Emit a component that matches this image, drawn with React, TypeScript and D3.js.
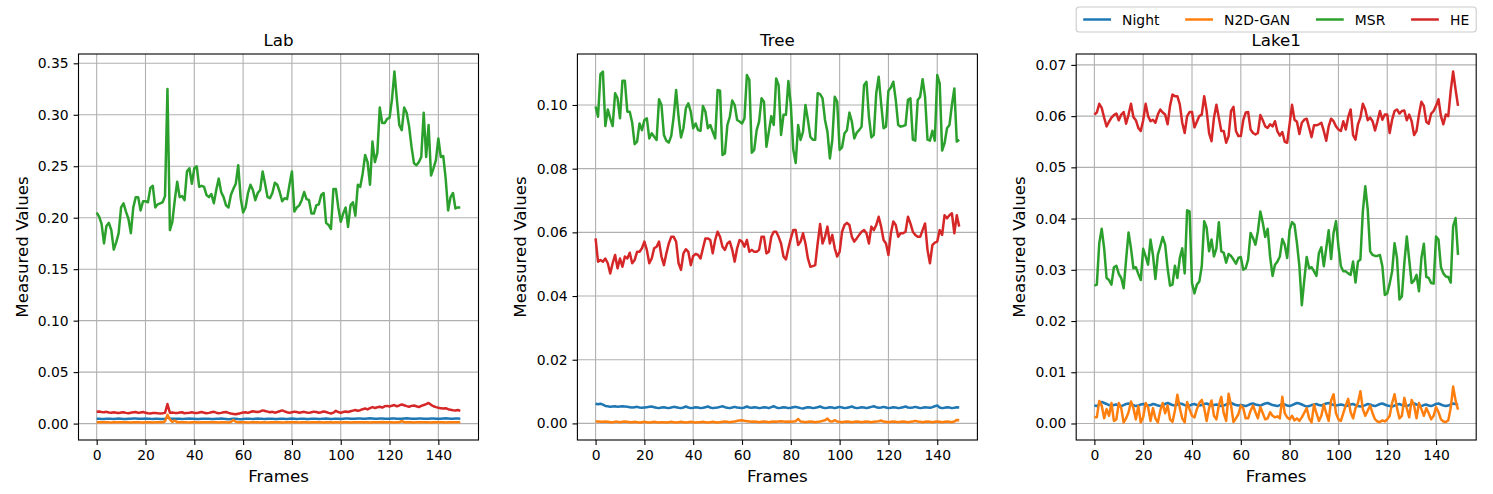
import React from 'react';
import * as d3 from 'd3';

// ---- data ----
const seriesNames = ['Night', 'N2D-GAN', 'MSR', 'HE'];
const seriesColors = ['#1f77b4', '#ff7f0e', '#2ca02c', '#d62728'];
const panelTitles = ['Lab', 'Tree', 'Lake1'];
const xTicks = [0, 20, 40, 60, 80, 100, 120, 140];
const labTicks = [0, 0.05, 0.1, 0.15, 0.2, 0.25, 0.3, 0.35];
const treeTicks = [0, 0.02, 0.04, 0.06, 0.08, 0.1];
const lakeTicks = [0, 0.01, 0.02, 0.03, 0.04, 0.05, 0.06, 0.07];

const labNight = [
  0.0046, 0.0047, 0.0045, 0.0044, 0.0046, 0.0048, 0.0046, 0.0045, 0.0047, 0.0049,
  0.0047, 0.0045, 0.0044, 0.0046, 0.0048, 0.0050, 0.0049, 0.0047, 0.0046, 0.0048,
  0.0050, 0.0048, 0.0046, 0.0045, 0.0047, 0.0046, 0.0044, 0.0045, 0.0047, 0.0060,
  0.0050, 0.0047, 0.0046, 0.0048, 0.0047, 0.0045, 0.0046, 0.0048, 0.0049, 0.0047,
  0.0046, 0.0044, 0.0045, 0.0047, 0.0046, 0.0048, 0.0047, 0.0045, 0.0044, 0.0046,
  0.0048, 0.0049, 0.0047, 0.0045, 0.0043, 0.0045, 0.0047, 0.0046, 0.0044, 0.0043,
  0.0045, 0.0047, 0.0048, 0.0046, 0.0045, 0.0047, 0.0049, 0.0048, 0.0046, 0.0045,
  0.0047, 0.0048, 0.0046, 0.0044, 0.0045, 0.0047, 0.0048, 0.0046, 0.0045, 0.0047,
  0.0049, 0.0047, 0.0045, 0.0046, 0.0048, 0.0047, 0.0045, 0.0044, 0.0046, 0.0048,
  0.0047, 0.0045, 0.0046, 0.0048, 0.0049, 0.0047, 0.0045, 0.0046, 0.0048, 0.0047,
  0.0045, 0.0047, 0.0049, 0.0050, 0.0048, 0.0046, 0.0047, 0.0049, 0.0050, 0.0048,
  0.0047, 0.0049, 0.0051, 0.0049, 0.0047, 0.0048, 0.0050, 0.0049, 0.0047, 0.0046,
  0.0048, 0.0050, 0.0049, 0.0047, 0.0046, 0.0048, 0.0050, 0.0051, 0.0049, 0.0047,
  0.0046, 0.0048, 0.0050, 0.0049, 0.0047, 0.0046, 0.0048, 0.0050, 0.0049, 0.0047,
  0.0046, 0.0048, 0.0050, 0.0051, 0.0049, 0.0047, 0.0048, 0.0050, 0.0049, 0.0048,
];
const labN2d = [
  0.0014, 0.0013, 0.0012, 0.0013, 0.0014, 0.0012, 0.0011, 0.0012, 0.0013, 0.0014,
  0.0013, 0.0012, 0.0013, 0.0012, 0.0011, 0.0012, 0.0013, 0.0014, 0.0012, 0.0011,
  0.0012, 0.0013, 0.0012, 0.0011, 0.0012, 0.0013, 0.0014, 0.0013, 0.0022, 0.0085,
  0.0040, 0.0015, 0.0030, 0.0014, 0.0012, 0.0013, 0.0014, 0.0012, 0.0011, 0.0012,
  0.0013, 0.0012, 0.0011, 0.0012, 0.0013, 0.0014, 0.0013, 0.0012, 0.0013, 0.0012,
  0.0011, 0.0012, 0.0013, 0.0012, 0.0011, 0.0016, 0.0034, 0.0018, 0.0013, 0.0012,
  0.0013, 0.0012, 0.0011, 0.0012, 0.0014, 0.0013, 0.0012, 0.0011, 0.0013, 0.0012,
  0.0011, 0.0012, 0.0013, 0.0014, 0.0013, 0.0012, 0.0011, 0.0012, 0.0014, 0.0013,
  0.0012, 0.0013, 0.0012, 0.0011, 0.0012, 0.0013, 0.0012, 0.0011, 0.0012, 0.0013,
  0.0014, 0.0013, 0.0012, 0.0011, 0.0012, 0.0013, 0.0012, 0.0011, 0.0013, 0.0012,
  0.0011, 0.0012, 0.0013, 0.0012, 0.0011, 0.0012, 0.0013, 0.0014, 0.0013, 0.0012,
  0.0013, 0.0012, 0.0011, 0.0012, 0.0013, 0.0012, 0.0014, 0.0016, 0.0013, 0.0012,
  0.0012, 0.0013, 0.0011, 0.0012, 0.0013, 0.0024, 0.0014, 0.0012, 0.0013, 0.0012,
  0.0011, 0.0012, 0.0013, 0.0012, 0.0014, 0.0013, 0.0012, 0.0011, 0.0012, 0.0013,
  0.0012, 0.0013, 0.0012, 0.0011, 0.0012, 0.0013, 0.0012, 0.0013, 0.0012, 0.0013,
];
const labMsr = [
  0.205, 0.201, 0.194, 0.175, 0.192, 0.195, 0.188, 0.169, 0.176, 0.185,
  0.210, 0.214, 0.206, 0.199, 0.185, 0.210, 0.220, 0.220, 0.207, 0.216,
  0.216, 0.215, 0.229, 0.231, 0.210, 0.213, 0.214, 0.215, 0.221, 0.325,
  0.188, 0.196, 0.217, 0.235, 0.220, 0.221, 0.217, 0.245, 0.248, 0.233,
  0.248, 0.250, 0.230, 0.231, 0.230, 0.222, 0.220, 0.223, 0.214, 0.227,
  0.238, 0.225, 0.220, 0.212, 0.210, 0.222, 0.228, 0.233, 0.251, 0.219,
  0.205, 0.210, 0.224, 0.232, 0.227, 0.217, 0.224, 0.227, 0.245, 0.233,
  0.220, 0.219, 0.224, 0.234, 0.232, 0.225, 0.216, 0.219, 0.218, 0.232,
  0.245, 0.206, 0.210, 0.212, 0.217, 0.225, 0.218, 0.217, 0.204, 0.204,
  0.212, 0.213, 0.222, 0.224, 0.195, 0.193, 0.189, 0.228, 0.228, 0.210,
  0.196, 0.204, 0.210, 0.191, 0.212, 0.215, 0.202, 0.232, 0.230, 0.243,
  0.261, 0.254, 0.232, 0.274, 0.254, 0.263, 0.307, 0.292, 0.292, 0.296,
  0.297, 0.315, 0.342, 0.315, 0.290, 0.285, 0.307, 0.302, 0.289, 0.269,
  0.253, 0.251, 0.254, 0.259, 0.302, 0.259, 0.290, 0.241, 0.248, 0.256,
  0.277, 0.259, 0.260, 0.238, 0.207, 0.220, 0.224, 0.209, 0.210, 0.210,
];
const labHe = [
  0.0115, 0.0118, 0.0112, 0.0110, 0.0114, 0.0108, 0.0105, 0.0110, 0.0106, 0.0102,
  0.0108, 0.0110, 0.0104, 0.0100, 0.0106, 0.0110, 0.0112, 0.0104, 0.0108, 0.0112,
  0.0106, 0.0100, 0.0098, 0.0102, 0.0104, 0.0100, 0.0097, 0.0100, 0.0104, 0.0190,
  0.0105, 0.0108, 0.0104, 0.0102, 0.0108, 0.0110, 0.0100, 0.0104, 0.0106, 0.0110,
  0.0104, 0.0102, 0.0108, 0.0112, 0.0106, 0.0100, 0.0104, 0.0110, 0.0114, 0.0106,
  0.0100, 0.0104, 0.0110, 0.0112, 0.0104, 0.0098, 0.0094, 0.0090, 0.0096, 0.0102,
  0.0108, 0.0110, 0.0104, 0.0112, 0.0120, 0.0116, 0.0112, 0.0118, 0.0128, 0.0122,
  0.0116, 0.0110, 0.0114, 0.0106, 0.0112, 0.0120, 0.0128, 0.0118, 0.0110, 0.0104,
  0.0110, 0.0116, 0.0112, 0.0106, 0.0110, 0.0114, 0.0108, 0.0104, 0.0110, 0.0116,
  0.0112, 0.0106, 0.0110, 0.0118, 0.0112, 0.0104, 0.0098, 0.0106, 0.0124, 0.0112,
  0.0104, 0.0112, 0.0118, 0.0112, 0.0120, 0.0126, 0.0132, 0.0124, 0.0130, 0.0140,
  0.0146, 0.0138, 0.0150, 0.0160, 0.0152, 0.0158, 0.0164, 0.0156, 0.0168, 0.0172,
  0.0166, 0.0174, 0.0180, 0.0168, 0.0176, 0.0186, 0.0178, 0.0170, 0.0164, 0.0172,
  0.0176, 0.0168, 0.0160, 0.0172, 0.0180, 0.0190, 0.0200, 0.0182, 0.0168, 0.0160,
  0.0154, 0.0150, 0.0146, 0.0150, 0.0140, 0.0134, 0.0130, 0.0128, 0.0132, 0.0124,
];

const treeNight = [
  0.0062, 0.0060, 0.0062, 0.0059, 0.0055, 0.0054, 0.0052, 0.0053, 0.0054, 0.0052,
  0.0053, 0.0054, 0.0053, 0.0052, 0.0051, 0.0050, 0.0051, 0.0052, 0.0050, 0.0049,
  0.0050, 0.0051, 0.0052, 0.0053, 0.0051, 0.0049, 0.0048, 0.0050, 0.0051, 0.0049,
  0.0048, 0.0050, 0.0052, 0.0051, 0.0049, 0.0048, 0.0050, 0.0053, 0.0050, 0.0048,
  0.0049, 0.0051, 0.0050, 0.0048, 0.0049, 0.0051, 0.0053, 0.0050, 0.0048, 0.0049,
  0.0050, 0.0052, 0.0054, 0.0051, 0.0049, 0.0048, 0.0050, 0.0052, 0.0050, 0.0049,
  0.0048, 0.0050, 0.0053, 0.0050, 0.0049, 0.0051, 0.0050, 0.0048, 0.0049, 0.0051,
  0.0050, 0.0048, 0.0051, 0.0054, 0.0050, 0.0048, 0.0049, 0.0051, 0.0050, 0.0048,
  0.0049, 0.0051, 0.0052, 0.0050, 0.0048, 0.0047, 0.0049, 0.0051, 0.0050, 0.0048,
  0.0049, 0.0051, 0.0053, 0.0050, 0.0048, 0.0049, 0.0051, 0.0050, 0.0048, 0.0050,
  0.0052, 0.0050, 0.0048, 0.0049, 0.0051, 0.0053, 0.0050, 0.0048, 0.0049, 0.0051,
  0.0050, 0.0048, 0.0050, 0.0052, 0.0054, 0.0051, 0.0049, 0.0050, 0.0052, 0.0050,
  0.0048, 0.0049, 0.0051, 0.0050, 0.0048, 0.0049, 0.0051, 0.0053, 0.0050, 0.0049,
  0.0050, 0.0052, 0.0050, 0.0048, 0.0049, 0.0051, 0.0050, 0.0049, 0.0051, 0.0054,
  0.0056, 0.0050, 0.0048, 0.0049, 0.0051, 0.0050, 0.0048, 0.0049, 0.0051, 0.0050,
];
const treeN2d = [
  0.0006, 0.0006, 0.0005, 0.0005, 0.0006, 0.0005, 0.0004, 0.0004, 0.0005, 0.0005,
  0.0004, 0.0005, 0.0006, 0.0005, 0.0004, 0.0004, 0.0005, 0.0004, 0.0003, 0.0004,
  0.0005, 0.0004, 0.0003, 0.0004, 0.0005, 0.0004, 0.0003, 0.0004, 0.0004, 0.0003,
  0.0004, 0.0005, 0.0004, 0.0003, 0.0004, 0.0005, 0.0004, 0.0003, 0.0004, 0.0005,
  0.0004, 0.0003, 0.0004, 0.0004, 0.0005, 0.0004, 0.0003, 0.0004, 0.0005, 0.0004,
  0.0003, 0.0004, 0.0005, 0.0006, 0.0005, 0.0004, 0.0005, 0.0006, 0.0008, 0.0009,
  0.0010, 0.0008, 0.0007, 0.0006, 0.0005, 0.0006, 0.0005, 0.0004, 0.0005, 0.0006,
  0.0005, 0.0004, 0.0005, 0.0006, 0.0005, 0.0006, 0.0007, 0.0006, 0.0005, 0.0006,
  0.0005, 0.0006, 0.0007, 0.0014, 0.0006, 0.0005, 0.0004, 0.0005, 0.0006, 0.0005,
  0.0004, 0.0005, 0.0006, 0.0008, 0.0010, 0.0015, 0.0007, 0.0006, 0.0010, 0.0006,
  0.0005, 0.0004, 0.0005, 0.0006, 0.0005, 0.0004, 0.0005, 0.0006, 0.0005, 0.0004,
  0.0005, 0.0006, 0.0005, 0.0004, 0.0005, 0.0006, 0.0007, 0.0009, 0.0006, 0.0005,
  0.0004, 0.0005, 0.0006, 0.0005, 0.0004, 0.0005, 0.0006, 0.0005, 0.0004, 0.0005,
  0.0006, 0.0008, 0.0006, 0.0005, 0.0004, 0.0005, 0.0006, 0.0005, 0.0004, 0.0005,
  0.0006, 0.0005, 0.0004, 0.0005, 0.0006, 0.0005, 0.0004, 0.0006, 0.0011, 0.0010,
];
const treeMsr = [
  0.0995, 0.0963, 0.1097, 0.1105, 0.0934, 0.0986, 0.0958, 0.0934, 0.1037, 0.1021,
  0.0958, 0.1076, 0.1076, 0.0979, 0.0979, 0.0944, 0.0877, 0.0885, 0.0942, 0.0921,
  0.0953, 0.0958, 0.0895, 0.0911, 0.0900, 0.0890, 0.1018, 0.1000, 0.0906, 0.0888,
  0.0882, 0.0903, 0.0963, 0.1047, 0.0963, 0.0898, 0.0927, 0.0990, 0.1005, 0.0979,
  0.0927, 0.0942, 0.0921, 0.0919, 0.0997, 0.0979, 0.0927, 0.0937, 0.0916, 0.0895,
  0.1047, 0.1045, 0.0843, 0.0848, 0.0937, 0.0963, 0.1014, 0.1000, 0.0953, 0.0948,
  0.0942, 0.0958, 0.1094, 0.1079, 0.0850, 0.0859, 0.0921, 0.0948, 0.1021, 0.1010,
  0.0869, 0.0916, 0.0965, 0.0937, 0.1083, 0.1062, 0.0906, 0.0969, 0.0969, 0.1075,
  0.1000, 0.0860, 0.0818, 0.0937, 0.0890, 0.0916, 0.1000, 0.0953, 0.0900, 0.0891,
  0.0891, 0.1037, 0.1034, 0.1021, 0.0953, 0.0916, 0.0832, 0.0890, 0.1026, 0.1010,
  0.0859, 0.0867, 0.0911, 0.0921, 0.0976, 0.0948, 0.0895, 0.0913, 0.0921, 0.0932,
  0.1062, 0.1073, 0.0963, 0.0898, 0.0906, 0.1037, 0.1089, 0.1005, 0.0927, 0.0932,
  0.1045, 0.1055, 0.1073, 0.1016, 0.0937, 0.0932, 0.0934, 0.0937, 0.1016, 0.1021,
  0.0891, 0.0888, 0.1016, 0.1026, 0.1081, 0.1026, 0.0891, 0.0888, 0.0919, 0.0888,
  0.1094, 0.1068, 0.0857, 0.0880, 0.0927, 0.0937, 0.1000, 0.1052, 0.0885, 0.0891,
];
const treeHe = [
  0.0581, 0.0508, 0.0513, 0.0508, 0.0518, 0.0503, 0.0471, 0.0503, 0.0529, 0.0487,
  0.0518, 0.0492, 0.0524, 0.0518, 0.0536, 0.0503, 0.0513, 0.0539, 0.0539, 0.0550,
  0.0571, 0.0545, 0.0503, 0.0518, 0.0550, 0.0555, 0.0571, 0.0524, 0.0497, 0.0534,
  0.0565, 0.0586, 0.0586, 0.0571, 0.0503, 0.0482, 0.0534, 0.0547, 0.0539, 0.0497,
  0.0526, 0.0532, 0.0529, 0.0518, 0.0550, 0.0581, 0.0581, 0.0576, 0.0534, 0.0576,
  0.0602, 0.0586, 0.0555, 0.0545, 0.0565, 0.0571, 0.0545, 0.0508, 0.0550, 0.0576,
  0.0571, 0.0555, 0.0576, 0.0539, 0.0545, 0.0539, 0.0539, 0.0545, 0.0586, 0.0586,
  0.0534, 0.0539, 0.0586, 0.0602, 0.0602, 0.0586, 0.0565, 0.0524, 0.0515, 0.0550,
  0.0581, 0.0607, 0.0607, 0.0560, 0.0571, 0.0597, 0.0565, 0.0518, 0.0492, 0.0494,
  0.0497, 0.0565, 0.0626, 0.0565, 0.0586, 0.0618, 0.0565, 0.0592, 0.0550, 0.0524,
  0.0539, 0.0602, 0.0623, 0.0630, 0.0623, 0.0586, 0.0571, 0.0581, 0.0592, 0.0602,
  0.0607, 0.0597, 0.0565, 0.0618, 0.0607, 0.0623, 0.0649, 0.0618, 0.0576, 0.0565,
  0.0529, 0.0597, 0.0634, 0.0623, 0.0586, 0.0597, 0.0597, 0.0602, 0.0649, 0.0628,
  0.0602, 0.0592, 0.0586, 0.0586, 0.0607, 0.0628, 0.0545, 0.0503, 0.0560, 0.0568,
  0.0571, 0.0607, 0.0592, 0.0654, 0.0644, 0.0654, 0.0660, 0.0597, 0.0654, 0.0618,
];

const lakeNight = [
  0.0035, 0.0034, 0.0037, 0.0042, 0.0040, 0.0038, 0.0036, 0.0035, 0.0036, 0.0037,
  0.0035, 0.0034, 0.0036, 0.0038, 0.0039, 0.0037, 0.0036, 0.0034, 0.0035, 0.0037,
  0.0038, 0.0036, 0.0035, 0.0036, 0.0038, 0.0037, 0.0035, 0.0034, 0.0036, 0.0038,
  0.0040, 0.0038, 0.0036, 0.0035, 0.0037, 0.0039, 0.0038, 0.0036, 0.0034, 0.0035,
  0.0037, 0.0038, 0.0036, 0.0035, 0.0036, 0.0038, 0.0039, 0.0037, 0.0035, 0.0036,
  0.0037, 0.0036, 0.0034, 0.0035, 0.0037, 0.0039, 0.0040, 0.0038, 0.0036, 0.0035,
  0.0036, 0.0035, 0.0034, 0.0036, 0.0038, 0.0039, 0.0037, 0.0036, 0.0035, 0.0037,
  0.0039, 0.0040, 0.0038, 0.0036, 0.0035, 0.0034, 0.0036, 0.0038, 0.0037, 0.0035,
  0.0034, 0.0036, 0.0038, 0.0040, 0.0039, 0.0037, 0.0035, 0.0033, 0.0034, 0.0036,
  0.0037, 0.0038, 0.0036, 0.0035, 0.0037, 0.0039, 0.0040, 0.0038, 0.0036, 0.0035,
  0.0036, 0.0037, 0.0036, 0.0034, 0.0035, 0.0037, 0.0038, 0.0036, 0.0034, 0.0033,
  0.0034, 0.0036, 0.0038, 0.0037, 0.0035, 0.0034, 0.0036, 0.0038, 0.0039, 0.0037,
  0.0035, 0.0034, 0.0033, 0.0035, 0.0037, 0.0038, 0.0036, 0.0035, 0.0034, 0.0036,
  0.0038, 0.0039, 0.0037, 0.0035, 0.0034, 0.0036, 0.0037, 0.0035, 0.0034, 0.0036,
  0.0038, 0.0039, 0.0037, 0.0035, 0.0034, 0.0035, 0.0037, 0.0039, 0.0038, 0.0036,
];
const lakeN2d = [
  0.0012, 0.0012, 0.0044, 0.0035, 0.0010, 0.0028, 0.0015, 0.0040, 0.0005, 0.0008,
  0.0040, 0.0030, 0.0002, 0.0010, 0.0022, 0.0043, 0.0030, 0.0008, 0.0034, 0.0002,
  0.0012, 0.0040, 0.0032, 0.0005, 0.0030, 0.0010, 0.0002, 0.0025, 0.0040, 0.0020,
  0.0035, 0.0008, 0.0003, 0.0025, 0.0056, 0.0030, 0.0010, 0.0002, 0.0042, 0.0028,
  0.0015, 0.0012, 0.0028, 0.0040, 0.0046, 0.0030, 0.0005, 0.0030, 0.0045, 0.0015,
  0.0008, 0.0035, 0.0052, 0.0020, 0.0005, 0.0058, 0.0035, 0.0003, 0.0010, 0.0018,
  0.0035, 0.0030, 0.0010, 0.0010, 0.0025, 0.0035, 0.0022, 0.0010, 0.0032, 0.0020,
  0.0008, 0.0010, 0.0022, 0.0015, 0.0012, 0.0014, 0.0010, 0.0052, 0.0020, 0.0012,
  0.0008, 0.0015, 0.0006, 0.0010, 0.0005, 0.0012, 0.0021, 0.0030, 0.0010, 0.0002,
  0.0037, 0.0020, 0.0005, 0.0015, 0.0037, 0.0020, 0.0005, 0.0045, 0.0057, 0.0020,
  0.0008, 0.0005, 0.0020, 0.0035, 0.0048, 0.0022, 0.0010, 0.0030, 0.0040, 0.0063,
  0.0028, 0.0015, 0.0025, 0.0035, 0.0020, 0.0008, 0.0004, 0.0003, 0.0006, 0.0004,
  0.0008, 0.0015, 0.0040, 0.0057, 0.0030, 0.0010, 0.0015, 0.0050, 0.0030, 0.0012,
  0.0046, 0.0035, 0.0010, 0.0040, 0.0028, 0.0015, 0.0030, 0.0020, 0.0008, 0.0015,
  0.0032, 0.0022, 0.0008, 0.0004, 0.0003, 0.0006, 0.0030, 0.0072, 0.0045, 0.0027,
];
const lakeMsr = [
  0.0269, 0.0271, 0.0352, 0.0380, 0.0342, 0.0284, 0.0280, 0.0271, 0.0305, 0.0308,
  0.0292, 0.0284, 0.0264, 0.0320, 0.0373, 0.0342, 0.0303, 0.0305, 0.0292, 0.0280,
  0.0341, 0.0326, 0.0310, 0.0359, 0.0329, 0.0282, 0.0329, 0.0346, 0.0364, 0.0349,
  0.0303, 0.0269, 0.0271, 0.0308, 0.0284, 0.0323, 0.0342, 0.0293, 0.0416, 0.0414,
  0.0274, 0.0254, 0.0271, 0.0277, 0.0307, 0.0395, 0.0382, 0.0336, 0.0359, 0.0326,
  0.0342, 0.0393, 0.0336, 0.0333, 0.0314, 0.0331, 0.0327, 0.0320, 0.0312, 0.0323,
  0.0325, 0.0300, 0.0303, 0.0320, 0.0372, 0.0362, 0.0349, 0.0375, 0.0414, 0.0392,
  0.0364, 0.0380, 0.0326, 0.0288, 0.0310, 0.0316, 0.0326, 0.0360, 0.0349, 0.0323,
  0.0378, 0.0393, 0.0388, 0.0352, 0.0307, 0.0231, 0.0280, 0.0325, 0.0303, 0.0305,
  0.0297, 0.0288, 0.0333, 0.0344, 0.0307, 0.0342, 0.0377, 0.0321, 0.0372, 0.0395,
  0.0346, 0.0307, 0.0297, 0.0297, 0.0293, 0.0290, 0.0316, 0.0275, 0.0316, 0.0320,
  0.0414, 0.0463, 0.0418, 0.0336, 0.0329, 0.0327, 0.0327, 0.0329, 0.0307, 0.0251,
  0.0254, 0.0273, 0.0297, 0.0352, 0.0323, 0.0242, 0.0248, 0.0313, 0.0365, 0.0320,
  0.0274, 0.0279, 0.0290, 0.0258, 0.0323, 0.0351, 0.0286, 0.0284, 0.0274, 0.0273,
  0.0365, 0.0359, 0.0305, 0.0293, 0.0287, 0.0286, 0.0275, 0.0385, 0.0401, 0.0329,
];
const lakeHe = [
  0.0603, 0.0607, 0.0624, 0.0616, 0.0597, 0.0580, 0.0589, 0.0597, 0.0602, 0.0605,
  0.0592, 0.0603, 0.0608, 0.0585, 0.0603, 0.0624, 0.0598, 0.0592, 0.0577, 0.0571,
  0.0592, 0.0624, 0.0600, 0.0590, 0.0593, 0.0587, 0.0603, 0.0613, 0.0607, 0.0603,
  0.0584, 0.0620, 0.0642, 0.0639, 0.0639, 0.0623, 0.0587, 0.0567, 0.0600, 0.0608,
  0.0608, 0.0578, 0.0589, 0.0600, 0.0603, 0.0639, 0.0610, 0.0567, 0.0551, 0.0597,
  0.0622, 0.0597, 0.0571, 0.0571, 0.0548, 0.0561, 0.0610, 0.0618, 0.0571, 0.0561,
  0.0561, 0.0592, 0.0607, 0.0608, 0.0574, 0.0567, 0.0564, 0.0567, 0.0602, 0.0592,
  0.0580, 0.0577, 0.0584, 0.0580, 0.0590, 0.0570, 0.0562, 0.0569, 0.0550, 0.0548,
  0.0585, 0.0622, 0.0593, 0.0589, 0.0565, 0.0587, 0.0593, 0.0595, 0.0577, 0.0559,
  0.0582, 0.0582, 0.0584, 0.0587, 0.0571, 0.0552, 0.0580, 0.0595, 0.0590, 0.0580,
  0.0574, 0.0571, 0.0590, 0.0574, 0.0598, 0.0613, 0.0563, 0.0554, 0.0584, 0.0597,
  0.0624, 0.0613, 0.0592, 0.0597, 0.0590, 0.0572, 0.0590, 0.0610, 0.0593, 0.0603,
  0.0603, 0.0567, 0.0593, 0.0610, 0.0613, 0.0605, 0.0610, 0.0611, 0.0592, 0.0603,
  0.0590, 0.0563, 0.0571, 0.0603, 0.0628, 0.0620, 0.0589, 0.0585, 0.0605, 0.0610,
  0.0620, 0.0633, 0.0600, 0.0584, 0.0603, 0.0600, 0.0649, 0.0687, 0.0652, 0.0620,
];

const panelSeries = [
  [labNight, labN2d, labMsr, labHe],
  [treeNight, treeN2d, treeMsr, treeHe],
  [lakeNight, lakeN2d, lakeMsr, lakeHe],
];
const panelTicks = [labTicks, treeTicks, lakeTicks];

// ---- layout ----
const W = 1493;
const H = 494;
const panelLeft = [78.5, 577.4, 1076.2];
const panelW = 400;
const panelTop = 54;
const panelH = 386;
const font = 'DejaVu Sans, Verdana, sans-serif';

class App extends React.Component {
  svgRef: SVGSVGElement | null = null;

  componentDidMount() {
    document.body.style.margin = '0';
    const svg = d3.select(this.svgRef).attr('width', W).attr('height', H);
    svg.selectAll('*').remove();
    svg.append('rect').attr('width', W).attr('height', H).attr('fill', 'white');

    panelSeries.forEach((series, pi) => {
      const left = panelLeft[pi];
      const n = series[0].length;
      const pad = (n - 1) * 0.05;
      const x = d3.scaleLinear().domain([-pad, n - 1 + pad]).range([0, panelW]);
      const all = series.flat();
      const lo = d3.min(all) as number;
      const hi = d3.max(all) as number;
      const yPad = (hi - lo) * 0.05;
      const y = d3.scaleLinear().domain([lo - yPad, hi + yPad]).range([panelH, 0]);

      const g = svg.append('g').attr('transform', `translate(${left},${panelTop})`);

      // grid
      g.append('g').selectAll('line').data(xTicks).enter().append('line')
        .attr('x1', d => x(d)).attr('x2', d => x(d))
        .attr('y1', 0).attr('y2', panelH)
        .attr('stroke', '#b0b0b0').attr('stroke-width', 1.1);
      g.append('g').selectAll('line').data(panelTicks[pi]).enter().append('line')
        .attr('x1', 0).attr('x2', panelW)
        .attr('y1', d => y(d)).attr('y2', d => y(d))
        .attr('stroke', '#b0b0b0').attr('stroke-width', 1.1);

      // lines
      const line = d3.line<number>().x((d, i) => x(i)).y(d => y(d));
      series.forEach((s, si) => {
        g.append('path').datum(s)
          .attr('d', line)
          .attr('fill', 'none')
          .attr('stroke', seriesColors[si])
          .attr('stroke-width', 2.5)
          .attr('stroke-linejoin', 'round');
      });

      // axes
      const xAxis = d3.axisBottom(x).tickValues(xTicks).tickSize(4.9).tickPadding(4.9)
        .tickFormat(d3.format('d'));
      const yAxis = d3.axisLeft(y).tickValues(panelTicks[pi]).tickSize(4.9).tickPadding(4.9)
        .tickFormat(d3.format('.2f'));
      const gx = g.append('g').attr('transform', `translate(0,${panelH})`).call(xAxis);
      const gy = g.append('g').call(yAxis);
      [gx, gy].forEach(ax => {
        ax.select('.domain').remove();
        ax.selectAll('line').attr('stroke', 'black').attr('stroke-width', 1.1);
        ax.selectAll('text').attr('font-family', font).attr('font-size', 13.9).attr('fill', 'black');
      });

      // spines
      g.append('rect').attr('width', panelW).attr('height', panelH)
        .attr('fill', 'none').attr('stroke', 'black').attr('stroke-width', 1.1);

      // labels
      g.append('text').attr('x', panelW / 2).attr('y', -8.3)
        .attr('text-anchor', 'middle').attr('font-family', font).attr('font-size', 16.7)
        .text(panelTitles[pi]);
      g.append('text').attr('x', panelW / 2).attr('y', panelH + 42)
        .attr('text-anchor', 'middle').attr('font-family', font).attr('font-size', 16.7)
        .text('Frames');
      g.append('text')
        .attr('transform', `translate(-51,${panelH / 2}) rotate(-90)`)
        .attr('text-anchor', 'middle').attr('font-family', font).attr('font-size', 16.7)
        .text('Measured Values');
    });

    // legend above the last panel, columns spread to fill the axes width
    const lg = svg.append('g').attr('transform', `translate(${panelLeft[2]},7)`);
    lg.append('rect').attr('width', panelW).attr('height', 25).attr('rx', 3)
      .attr('fill', 'white').attr('fill-opacity', 0.8)
      .attr('stroke', '#cccccc').attr('stroke-width', 1.1);
    const handleLen = 27.8;
    const textGap = 11.1;
    const inner = 7;
    const items = lg.selectAll('g.item').data(seriesNames).enter().append('g')
      .attr('class', 'item');
    items.append('line').attr('x1', 0).attr('x2', handleLen).attr('y1', 0).attr('y2', 0)
      .attr('stroke', (d, i) => seriesColors[i]).attr('stroke-width', 2.5);
    items.append('text').attr('x', handleLen + textGap).attr('y', 0).attr('dy', '0.36em')
      .attr('font-family', font).attr('font-size', 13.9).text(d => d);
    const widths: number[] = [];
    items.select('text').each(function () {
      widths.push(handleLen + textGap + (this as SVGTextElement).getComputedTextLength());
    });
    const gap = (panelW - 2 * inner - d3.sum(widths)) / (widths.length - 1);
    let cx = inner;
    const starts = widths.map(w => { const s = cx; cx += w + gap; return s; });
    items.attr('transform', (d, i) => `translate(${starts[i]},12.5)`);
  }

  render() {
    return (
      <div style={{ width: W, height: H }}>
        <svg ref={r => { this.svgRef = r; }} style={{ display: 'block' }} />
      </div>
    );
  }
}

export default App;
